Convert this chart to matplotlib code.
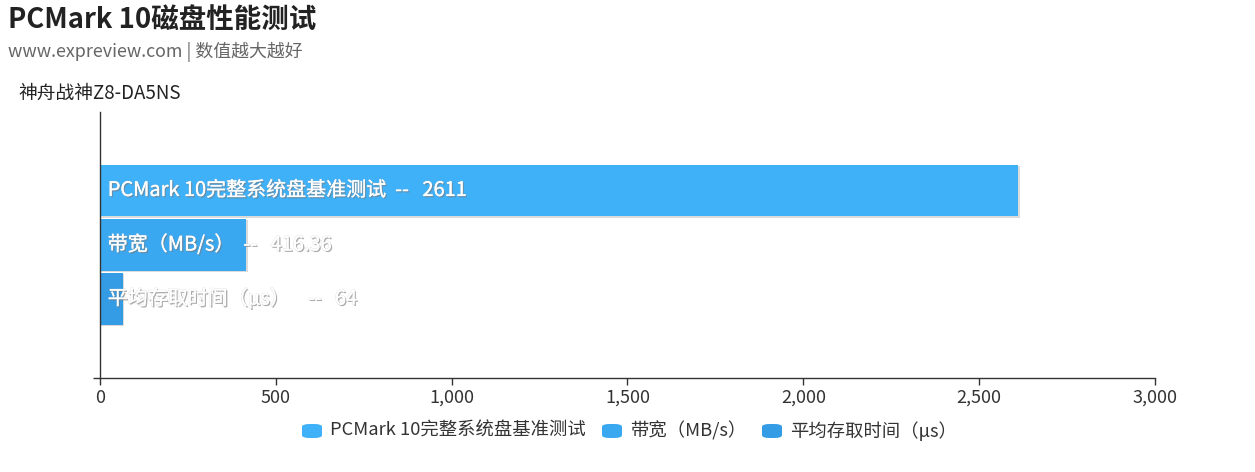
import matplotlib.pyplot as plt
import matplotlib.patheffects as pe
from matplotlib.patches import FancyBboxPatch
from matplotlib.ticker import FuncFormatter

plt.rcParams['font.family'] = ['Noto Sans CJK SC', 'DejaVu Sans']

# data
category = '神舟战神Z8-DA5NS'
series = ['PCMark 10完整系统盘基准测试', '带宽（MB/s）', '平均存取时间（μs）']
values = [2611, 416.36, 64]
colors = ['#3FB1F9', '#3AA8F1', '#349CE5']
x_ticks = [0, 500, 1000, 1500, 2000, 2500, 3000]

W, H = 1255, 472
fig = plt.figure(figsize=(W / 100, H / 100), dpi=100)
ax = fig.add_axes([100 / W, (H - 378) / H, 1055 / W, 266 / H])

offsets = [-0.205, 0.0, 0.203]
bar_h = 0.195
shadow = [pe.SimplePatchShadow(offset=(1, -1), shadow_rgbFace='#888888', alpha=0.3), pe.Normal()]
txt_shadow = [pe.SimplePatchShadow(offset=(1, -1), shadow_rgbFace='#777777', alpha=0.6),
              pe.withStroke(linewidth=0.8, foreground='#bbbbbb', alpha=0.4), pe.Normal()]
for i, (name, v) in enumerate(zip(series, values)):
    b = ax.barh(offsets[i], v, height=bar_h, color=colors[i], zorder=2)
    for r in b:
        r.set_path_effects(shadow)
    gap = '    --   ' if i == 2 else '  --   '
    ax.text(22, offsets[i], name + gap + f'{v:g}', color='white', fontsize=14.4,
            va='center', ha='left', zorder=3, path_effects=txt_shadow)

ax.set_xlim(0, 3000)
ax.set_ylim(0.5, -0.5)
ax.set_xticks(x_ticks)
ax.xaxis.set_major_formatter(FuncFormatter(lambda x, p: f'{int(x):,}'))
ax.set_yticks([0.5])
ax.set_yticklabels([])
ax.tick_params(axis='x', length=5, width=1, colors='#333333', labelsize=13, pad=3)
ax.tick_params(axis='y', length=5, width=1, colors='#333333')
for s in ['top', 'right']:
    ax.spines[s].set_visible(False)
for s in ['left', 'bottom']:
    ax.spines[s].set_color('#333333')
    ax.spines[s].set_linewidth(1)

fig.text(8 / W, 1 - 20 / H, 'PCMark 10磁盘性能测试', fontsize=19.8, fontweight='bold',
         color='#222222', va='center', ha='left')
fig.text(8 / W, 1 - 52 / H, 'www.expreview.com | 数值越大越好', fontsize=12.9,
         color='#666666', va='center', ha='left')
fig.text(18 / W, 1 - 93 / H, category, fontsize=13.5, color='#222222', va='center', ha='left')

# legend
leg_x = [302, 602, 762]
for lx, name, c in zip(leg_x, series, colors):
    fig.patches.append(FancyBboxPatch(((lx) / W, 1 - 438 / H), 20 / W, 14 / H,
                                      boxstyle='round,pad=0,rounding_size=0.006',
                                      transform=fig.transFigure, color=c, ec='none'))
    fig.text((lx + 28) / W, 1 - 431 / H, name, fontsize=13.2, color='#333333',
             va='center', ha='left')

fig.savefig('out.png', dpi=100)
